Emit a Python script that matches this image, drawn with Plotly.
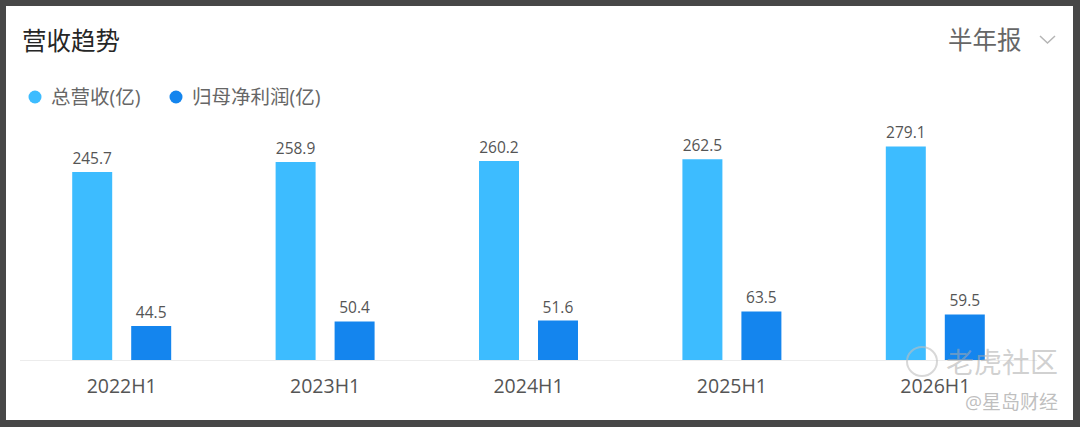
import plotly.graph_objects as go

periods = ['2022H1', '2023H1', '2024H1', '2025H1', '2026H1']
revenue = [245.7, 258.9, 260.2, 262.5, 279.1]
net_profit = [44.5, 50.4, 51.6, 63.5, 59.5]
series_names = ['总营收(亿)', '归母净利润(亿)']
series_colors = ['#3DBCFF', '#1485EE']

FONT = 'Open Sans, Noto Sans CJK SC, sans-serif'

W, H = 1080, 427
ml, mr, mt, mb = 20, 43, 120, 67
pw, ph = W - ml - mr, H - mt - mb


def px_x(x):
    return (x - ml) / pw


def px_y(y):
    return (H - mb - y) / ph


fig = go.Figure()
for name, vals, col in zip(series_names, [revenue, net_profit], series_colors):
    fig.add_trace(go.Bar(
        x=periods, y=vals, name=name,
        marker=dict(color=col, line=dict(width=0)),
        text=vals, texttemplate='%{y:.1f}', textposition='outside',
        textfont=dict(size=15.5, color='#555555', family=FONT),
        cliponaxis=False, showlegend=False,
    ))

shapes = [
    dict(type='rect', xref='paper', yref='paper',
         x0=px_x(6), x1=px_x(1073), y0=px_y(420), y1=px_y(6),
         fillcolor='white', line=dict(width=0), layer='below'),
    # dropdown chevron
    dict(type='path', xref='paper', yref='paper',
         path='M %f %f L %f %f L %f %f' % (px_x(1040), px_y(36), px_x(1047.5), px_y(43),
                                           px_x(1055), px_y(36)),
         line=dict(color='#b5b5b5', width=1.5)),
    # watermark logo
    dict(type='circle', xref='paper', yref='paper',
         x0=px_x(907), x1=px_x(937), y0=px_y(376), y1=px_y(347),
         line=dict(color='rgba(190,190,190,0.6)', width=2), layer='above'),
]

annotations = [
    dict(text='营收趋势', xref='paper', yref='paper', x=px_x(20), y=px_y(40),
         xanchor='left', yanchor='middle', showarrow=False,
         font=dict(size=24.5, color='#262626', family=FONT)),
    dict(text='半年报', xref='paper', yref='paper', x=px_x(1024), y=px_y(39),
         xanchor='right', yanchor='middle', showarrow=False,
         font=dict(size=24.5, color='#666666', family=FONT)),
    dict(text='老虎社区', xref='paper', yref='paper', x=px_x(1060), y=px_y(362),
         xanchor='right', yanchor='middle', showarrow=False,
         font=dict(size=28, color='rgba(170,170,170,0.55)', family=FONT)),
    dict(text='@星岛财经', xref='paper', yref='paper', x=px_x(1060), y=px_y(402),
         xanchor='right', yanchor='middle', showarrow=False,
         font=dict(size=19, color='rgba(170,170,170,0.75)', family=FONT)),
]

# legend drawn by hand: round dot + label
legend_x = [35, 176]
for name, col, lx in zip(series_names, series_colors, legend_x):
    shapes.append(dict(type='circle', xref='paper', yref='paper',
                       x0=px_x(lx - 6.5), x1=px_x(lx + 6.5), y0=px_y(103.5), y1=px_y(90.5),
                       fillcolor=col, line=dict(width=0)))
    annotations.append(dict(text=name, xref='paper', yref='paper', x=px_x(lx + 14), y=px_y(97),
                            xanchor='left', yanchor='middle', showarrow=False,
                            font=dict(size=19.5, color='#666666', family=FONT)))

fig.update_layout(
    width=W, height=H,
    margin=dict(l=ml, r=mr, t=mt, b=mb),
    paper_bgcolor='#474747',
    plot_bgcolor='rgba(0,0,0,0)',
    barmode='group', bargap=0.42, bargroupgap=0.322,
    font=dict(family=FONT, color='#555555'),
    showlegend=False,
    xaxis=dict(
        showline=True, linecolor='#ececec', linewidth=1, ticks='',
        tickfont=dict(size=19.5, color='#555555', family=FONT),
        ticklabelstandoff=9,
        showgrid=False, zeroline=False,
    ),
    yaxis=dict(range=[0, ph / 0.765], visible=False),
    shapes=shapes,
    annotations=annotations,
)

fig.write_html('out.html', config={'displayModeBar': False},
               post_script="document.body.style.margin='0';")
